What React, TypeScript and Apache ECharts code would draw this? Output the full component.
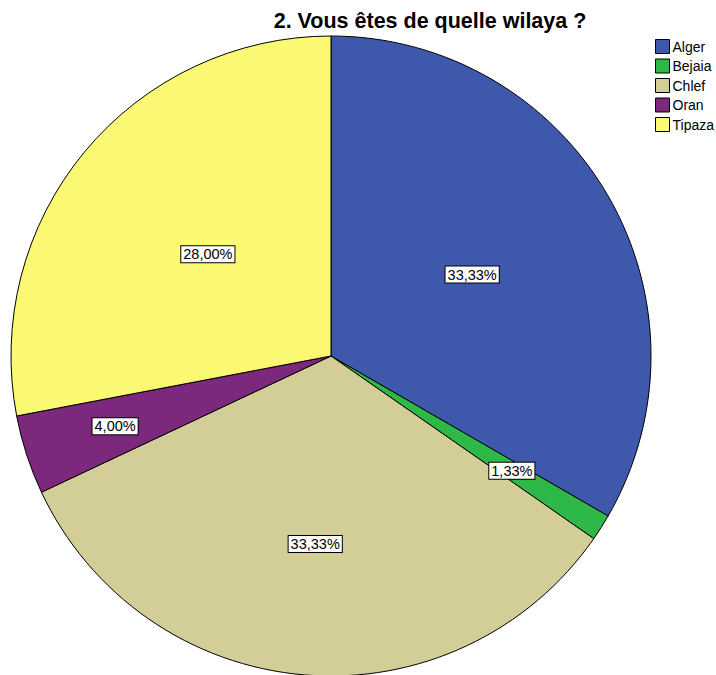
import React, { useEffect, useRef } from "react";
import * as echarts from "echarts";

const categories = ["Alger", "Bejaia", "Chlef", "Oran", "Tipaza"];
const counts = [25, 1, 25, 3, 21];
const percentLabels = ["33,33%", "1,33%", "33,33%", "4,00%", "28,00%"];
const colors = ["#3E58AC", "#2EB848", "#D3CE97", "#7C287D", "#FBF873"];
const labelRadiusFraction = [0.5, 0.66, 0.58, 0.7, 0.49];

export default function App() {
  const ref = useRef<HTMLDivElement>(null);
  useEffect(() => {
    document.body.style.margin = "0";
    const chart = echarts.init(ref.current!, null, { renderer: "svg" });
    const R = 320;
    const total = counts.reduce((a, b) => a + b, 0);
    let acc = 0;
    const data = categories.map((name, i) => {
      const mid = ((acc + counts[i] / 2) / total) * Math.PI * 2;
      acc += counts[i];
      const extra = (labelRadiusFraction[i] - 0.5) * R;
      return {
        name,
        value: counts[i],
        itemStyle: { color: colors[i] },
        label: {
          formatter: percentLabels[i],
          offset: [Math.sin(mid) * extra, -Math.cos(mid) * extra],
        },
      };
    });
    chart.setOption({
      animation: false,
      title: {
        text: "2. Vous êtes de quelle wilaya ?",
        left: 425,
        textAlign: "center",
        top: 5,
        textStyle: {
          fontFamily: "Liberation Sans, Arial, sans-serif",
          fontSize: 21.5,
          fontWeight: "bold",
          color: "#000",
        },
      },
      legend: {
        orient: "vertical",
        left: 655,
        top: 39,
        padding: 0,
        icon: "rect",
        itemWidth: 14,
        itemHeight: 14,
        itemGap: 4.5,
        data: categories,
        itemStyle: { borderColor: "#000", borderWidth: 1 },
        textStyle: {
          fontFamily: "Liberation Sans, Arial, sans-serif",
          fontSize: 14,
          lineHeight: 14,
          color: "#000",
          padding: [0, 0, 0, -2],
        },
      },
      series: [
        {
          type: "pie",
          center: [331, 356],
          radius: [0, R],
          startAngle: 90,
          clockwise: true,
          silent: true,
          itemStyle: { borderColor: "#000", borderWidth: 1 },
          label: {
            show: true,
            position: "inside",
            fontFamily: "Liberation Sans, Arial, sans-serif",
            fontSize: 14.5,
            color: "#000",
            backgroundColor: "#fff",
            borderColor: "#000",
            borderWidth: 1,
            padding: [1, 2, 0, 2],
          },
          labelLine: { show: false },
          data,
        },
      ],
    });
    return () => chart.dispose();
  }, []);
  return <div ref={ref} style={{ width: 716, height: 675 }} />;
}
